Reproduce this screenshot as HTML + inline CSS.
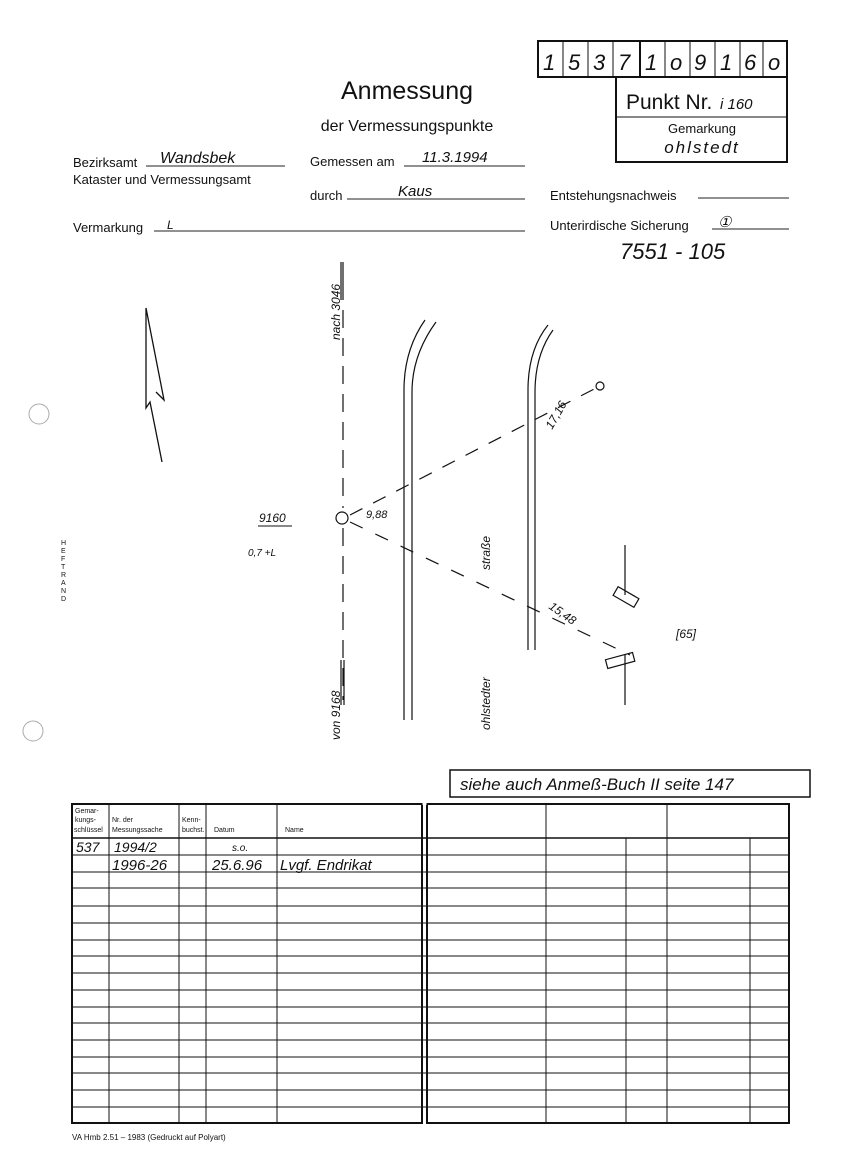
<!DOCTYPE html>
<html><head><meta charset="utf-8"><style>
body{margin:0;background:#fff}
svg{display:block}
text{font-family:"Liberation Sans",sans-serif}
.h{font-family:"Liberation Sans",sans-serif;font-style:italic}
</style></head><body>
<svg width="846" height="1176" viewBox="0 0 846 1176" xmlns="http://www.w3.org/2000/svg">
<rect width="846" height="1176" fill="#fff"/>
<!-- top number box -->
<g stroke="#111" stroke-width="2" fill="none">
<rect x="538" y="41" width="249" height="36"/>
<rect x="616" y="77" width="171" height="85"/>
<line x1="616" y1="117" x2="787" y2="117" stroke-width="1"/>
</g>
<g stroke="#111" stroke-width="1">
<line x1="563" y1="41" x2="563" y2="77"/><line x1="588" y1="41" x2="588" y2="77"/>
<line x1="613" y1="41" x2="613" y2="77"/><line x1="640" y1="41" x2="640" y2="77" stroke-width="2"/>
<line x1="665" y1="41" x2="665" y2="77"/><line x1="690" y1="41" x2="690" y2="77"/>
<line x1="715" y1="41" x2="715" y2="77"/><line x1="740" y1="41" x2="740" y2="77"/>
<line x1="763" y1="41" x2="763" y2="77"/>
</g>
<g class="h" font-size="22" fill="#111">
<text x="543" y="70">1</text><text x="568" y="70">5</text><text x="593" y="70">3</text><text x="618" y="70">7</text>
<text x="645" y="70">1</text><text x="670" y="70">o</text><text x="694" y="70">9</text><text x="720" y="70">1</text>
<text x="744" y="70">6</text><text x="768" y="70">o</text>
</g>
<text x="626" y="109" font-size="21" fill="#111">Punkt Nr.</text>
<text x="720" y="109" class="h" font-size="15" fill="#111">i 160</text>
<text x="702" y="133" font-size="13" text-anchor="middle" fill="#111">Gemarkung</text>
<text x="702" y="153" class="h" font-size="17" text-anchor="middle" fill="#111" letter-spacing="2">ohlstedt</text>

<text x="407" y="99" font-size="25" text-anchor="middle" fill="#111">Anmessung</text>
<text x="407" y="131" font-size="16" text-anchor="middle" fill="#111">der Vermessungspunkte</text>

<g font-size="13" fill="#111">
<text x="73" y="167">Bezirksamt</text>
<text x="73" y="184">Kataster und Vermessungsamt</text>
<text x="310" y="166">Gemessen am</text>
<text x="310" y="200">durch</text>
<text x="73" y="232">Vermarkung</text>
<text x="550" y="200">Entstehungsnachweis</text>
<text x="550" y="230">Unterirdische Sicherung</text>
</g>
<g stroke="#222" stroke-width="1">
<line x1="146" y1="166" x2="285" y2="166"/>
<line x1="404" y1="166" x2="525" y2="166"/>
<line x1="347" y1="199" x2="525" y2="199"/>
<line x1="154" y1="231" x2="525" y2="231"/>
<line x1="698" y1="198" x2="789" y2="198"/>
<line x1="712" y1="229" x2="789" y2="229"/>
</g>
<g class="h" fill="#111">
<text x="160" y="163" font-size="16">Wandsbek</text>
<text x="422" y="162" font-size="15">11.3.1994</text>
<text x="398" y="196" font-size="15">Kaus</text>
<text x="167" y="229" font-size="12">L</text>
<text x="718" y="227" font-size="15">①</text>
<text x="620" y="259" font-size="22">7551 - 105</text>
</g>

<!-- north arrow -->
<g stroke="#111" stroke-width="1.3" fill="none">
<polyline points="162,462 150,402 146,408 146,308 164,400 156,392"/>
</g>
<circle cx="39" cy="414" r="10" fill="none" stroke="#aaa"/>
<circle cx="33" cy="731" r="10" fill="none" stroke="#aaa"/>
<text font-size="7" fill="#111"><tspan x="61" y="545">H</tspan><tspan x="61" y="553">E</tspan><tspan x="61" y="561">F</tspan><tspan x="61" y="569">T</tspan><tspan x="61" y="577">R</tspan><tspan x="61" y="585">A</tspan><tspan x="61" y="593">N</tspan><tspan x="61" y="601">D</tspan></text>

<!-- sketch -->
<g stroke="#111" stroke-width="1.2" fill="none">
<line x1="343" y1="262" x2="343" y2="300"/>
<line x1="341" y1="262" x2="341" y2="300"/>
<line x1="343" y1="310" x2="343" y2="508" stroke-dasharray="18,10"/>
<line x1="343" y1="528" x2="343" y2="700" stroke-dasharray="18,10"/>
<line x1="341" y1="660" x2="341" y2="705"/><line x1="344" y1="660" x2="344" y2="705"/>
<circle cx="342" cy="518" r="6"/>
<path d="M404 720 L404 390 Q404 350 425 320"/>
<path d="M412 720 L412 392 Q412 355 436 322"/>
<path d="M528 650 L528 390 Q528 350 548 325"/>
<path d="M535 650 L535 392 Q535 355 553 330"/>
<line x1="350" y1="515" x2="600" y2="386" stroke-dasharray="14,12"/>
<line x1="350" y1="522" x2="630" y2="655" stroke-dasharray="14,14"/>
<circle cx="600" cy="386" r="4"/>
<line x1="625" y1="545" x2="625" y2="595"/>
<line x1="625" y1="655" x2="625" y2="705"/>
<rect x="614" y="592" width="24" height="10" transform="rotate(30 626 597)"/>
<rect x="606" y="656" width="28" height="9" transform="rotate(-15 620 660)"/>
</g>
<g class="h" fill="#111" font-size="12">
<text x="259" y="522">9160</text>
<line x1="258" y1="526" x2="292" y2="526" stroke="#111"/>
<text x="248" y="556" font-size="10">0,7 +L</text>
<text x="366" y="518" font-size="11">9,88</text>
<text transform="translate(340 340) rotate(-90)">nach 3046</text>
<text transform="translate(340 740) rotate(-90)">von 9168</text>
<text transform="translate(552 430) rotate(-60)">17,16</text>
<text transform="translate(548 608) rotate(35)">15,48</text>
<text transform="translate(490 570) rotate(-90)">straße</text>
<text transform="translate(490 730) rotate(-90)">ohlstedter</text>
<text x="676" y="638">[65]</text>
</g>

<!-- siehe box -->
<rect x="450" y="770" width="360" height="27" fill="none" stroke="#111" stroke-width="1.5"/>
<text x="460" y="790" class="h" font-size="17" fill="#111">siehe auch Anmeß-Buch II seite 147</text>

<!-- tables -->
<g stroke="#111" fill="none">
<rect x="72" y="804" width="350" height="319" stroke-width="2"/>
<rect x="427" y="804" width="362" height="319" stroke-width="2"/>
<line x1="109" y1="804" x2="109" y2="1123"/><line x1="179" y1="804" x2="179" y2="1123"/>
<line x1="206" y1="804" x2="206" y2="1123"/><line x1="277" y1="804" x2="277" y2="1123"/>
<line x1="546" y1="804" x2="546" y2="1123"/><line x1="667" y1="804" x2="667" y2="1123"/>
<line x1="626" y1="838" x2="626" y2="1123"/><line x1="750" y1="838" x2="750" y2="1123"/>
<line x1="72" y1="838" x2="789" y2="838" stroke-width="1.5"/>
<path d="M72 855H789M72 872H789M72 888H789M72 906H789M72 923H789M72 940H789M72 956H789M72 973H789M72 990H789M72 1007H789M72 1023H789M72 1040H789M72 1057H789M72 1073H789M72 1090H789M72 1107H789" />
<line x1="422" y1="804" x2="427" y2="804" stroke="#fff"/>
</g>
<g font-size="7" fill="#111">
<text x="75" y="813">Gemar-</text><text x="75" y="822">kungs-</text><text x="74" y="832">schlüssel</text>
<text x="112" y="822">Nr. der</text><text x="112" y="832">Messungssache</text>
<text x="182" y="822">Kenn-</text><text x="182" y="832">buchst.</text>
<text x="214" y="832">Datum</text><text x="285" y="832">Name</text>
</g>
<g class="h" fill="#111">
<text x="76" y="852" font-size="14">537</text>
<text x="114" y="852" font-size="14">1994/2</text>
<text x="232" y="851" font-size="10">s.o.</text>
<text x="112" y="870" font-size="15">1996-26</text>
<text x="212" y="870" font-size="15">25.6.96</text>
<text x="280" y="870" font-size="15">Lvgf. Endrikat</text>
</g>
<text x="72" y="1140" font-size="8" fill="#111">VA Hmb 2.51 – 1983 (Gedruckt auf Polyart)</text>
</svg>
</body></html>
